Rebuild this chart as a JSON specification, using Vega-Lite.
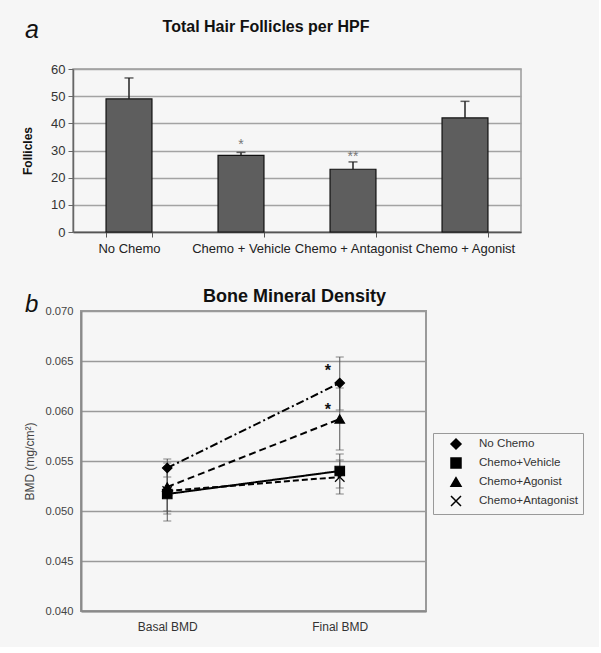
{
  "$schema": "https://vega.github.io/schema/vega-lite/v6.json",
  "background": "#f6f6f6",
  "padding": {"left": 20, "top": 18, "right": 14, "bottom": 14},
  "config": {
    "font": "Liberation Sans",
    "view": {"stroke": null},
    "legend": {
      "title": null, "orient": "none", "legendX": 352, "legendY": 122,
      "padding": 5, "strokeColor": "#999", "fillColor": "#f6f6f6",
      "labelFontSize": 11.6, "labelColor": "#333", "labelFont": "Liberation Sans",
      "symbolSize": 100, "symbolOffset": 12, "labelOffset": 17, "rowPadding": 3
    }
  },
  "spacing": 30,
  "resolve": {"scale": {"shape": "independent", "strokeDash": "independent"}, "legend": {"shape": "independent", "strokeDash": "independent"}},
  "vconcat": [
    {
      "bounds": "flush",
      "spacing": 47,
      "hconcat": [
        {
          "width": 1, "height": 1,
          "data": {"values": []},
          "mark": "point",
          "title": {"text": "a", "anchor": "start", "frame": "group", "fontSize": 25, "fontStyle": "italic", "fontWeight": "normal", "color": "#111", "baseline": "alphabetic", "offset": 6}
        },
        {
          "width": 448, "height": 163,
          "view": {"stroke": "#9a9a9a", "strokeWidth": 1.5},
          "title": {"text": "Total Hair Follicles per HPF", "fontSize": 16, "fontWeight": "bold", "color": "#111", "frame": "group", "anchor": "middle", "dx": -31, "baseline": "alphabetic", "offset": 15},
          "data": {"values": [
            {"group": "No Chemo", "mean": 49.0, "upper": 56.7, "star": "", "starPos": null},
            {"group": "Chemo + Vehicle", "mean": 28.2, "upper": 29.3, "star": "*", "starPos": 30.6},
            {"group": "Chemo + Antagonist", "mean": 23.1, "upper": 25.8, "star": "**", "starPos": 26.0},
            {"group": "Chemo + Agonist", "mean": 42.0, "upper": 48.1, "star": "", "starPos": null}
          ]},
          "encoding": {
            "x": {"field": "group", "type": "nominal", "sort": null,
              "scale": {"paddingInner": 0.59, "paddingOuter": 0.295},
              "axis": {"title": null, "labelAngle": 0, "labelFontSize": 13, "labelColor": "#222", "tickBand": "extent", "tickSize": 5, "tickColor": "#555", "domainColor": "#555", "domainWidth": 1.5, "labelPadding": 5, "grid": false}}
          },
          "layer": [
            {
              "mark": {"type": "bar", "fill": "#5e5e5e", "stroke": "#111", "strokeWidth": 1.2},
              "encoding": {"y": {"field": "mean", "type": "quantitative", "scale": {"domain": [0, 60], "nice": false},
                "axis": {"title": "Follicles", "titleFontSize": 12, "titleFontWeight": "bold", "titleColor": "#111", "titlePadding": 16, "values": [0, 10, 20, 30, 40, 50, 60], "labelOverlap": false, "labelFontSize": 13, "labelColor": "#333", "labelPadding": 3, "tickSize": 5, "tickColor": "#666", "domainColor": "#666", "domainWidth": 1.5, "grid": true, "gridColor": "#a3a3a3", "gridWidth": 1.5}}}
            },
            {
              "mark": {"type": "rule", "color": "#222", "strokeWidth": 1.5},
              "encoding": {"y": {"field": "mean", "type": "quantitative",
                "axis": {"title": "Follicles", "titleFontSize": 12, "titleFontWeight": "bold", "titleColor": "#111", "titlePadding": 16, "values": [0, 10, 20, 30, 40, 50, 60], "labelOverlap": false, "labelFontSize": 13, "labelColor": "#333", "labelPadding": 3, "tickSize": 5, "tickColor": "#666", "domainColor": "#666", "domainWidth": 1.5, "grid": true, "gridColor": "#a3a3a3", "gridWidth": 1.5}}, "y2": {"field": "upper"}}
            },
            {
              "mark": {"type": "tick", "color": "#222", "thickness": 1.5, "size": 9},
              "encoding": {"y": {"field": "upper", "type": "quantitative",
                "axis": {"title": "Follicles", "titleFontSize": 12, "titleFontWeight": "bold", "titleColor": "#111", "titlePadding": 16, "values": [0, 10, 20, 30, 40, 50, 60], "labelOverlap": false, "labelFontSize": 13, "labelColor": "#333", "labelPadding": 3, "tickSize": 5, "tickColor": "#666", "domainColor": "#666", "domainWidth": 1.5, "grid": true, "gridColor": "#a3a3a3", "gridWidth": 1.5}}}
            },
            {
              "transform": [{"filter": "datum.star != ''"}],
              "mark": {"type": "text", "color": "#777", "fontSize": 14, "baseline": "alphabetic"},
              "encoding": {"y": {"field": "starPos", "type": "quantitative",
                "axis": {"title": "Follicles", "titleFontSize": 12, "titleFontWeight": "bold", "titleColor": "#111", "titlePadding": 16, "values": [0, 10, 20, 30, 40, 50, 60], "labelOverlap": false, "labelFontSize": 13, "labelColor": "#333", "labelPadding": 3, "tickSize": 5, "tickColor": "#666", "domainColor": "#666", "domainWidth": 1.5, "grid": true, "gridColor": "#a3a3a3", "gridWidth": 1.5}}, "text": {"field": "star"}}
            }
          ]
        }
      ]
    },
    {
      "bounds": "flush",
      "spacing": 55,
      "resolve": {"scale": {"shape": "independent", "strokeDash": "independent"}, "legend": {"shape": "independent", "strokeDash": "independent"}},
      "hconcat": [
        {
          "width": 1, "height": 1,
          "data": {"values": []},
          "mark": "point",
          "title": {"text": "b", "anchor": "start", "frame": "group", "fontSize": 24, "fontStyle": "italic", "fontWeight": "normal", "color": "#111", "baseline": "alphabetic", "offset": -25}
        },
        {
          "width": 345, "height": 300,
          "view": {"stroke": "#9a9a9a", "strokeWidth": 2},
          "title": {"text": "Bone Mineral Density", "fontSize": 18, "fontWeight": "bold", "color": "#111", "frame": "group", "anchor": "middle", "dx": 41, "baseline": "alphabetic", "offset": -14.5},
          "data": {"values": [
            {"time": "Basal BMD", "group": "No Chemo", "bmd": 0.0543, "lo": 0.0534, "hi": 0.0552},
            {"time": "Basal BMD", "group": "Chemo+Vehicle", "bmd": 0.0517, "lo": 0.0490, "hi": 0.0544},
            {"time": "Basal BMD", "group": "Chemo+Agonist", "bmd": 0.0524, "lo": 0.0500, "hi": 0.0548},
            {"time": "Basal BMD", "group": "Chemo+Antagonist", "bmd": 0.0520, "lo": 0.0497, "hi": 0.0543},
            {"time": "Final BMD", "group": "No Chemo", "bmd": 0.0628, "lo": 0.0601, "hi": 0.0654},
            {"time": "Final BMD", "group": "Chemo+Vehicle", "bmd": 0.0540, "lo": 0.0523, "hi": 0.0557},
            {"time": "Final BMD", "group": "Chemo+Agonist", "bmd": 0.0592, "lo": 0.0561, "hi": 0.0623},
            {"time": "Final BMD", "group": "Chemo+Antagonist", "bmd": 0.0534, "lo": 0.0517, "hi": 0.0551}
          ]},
          "encoding": {
            "x": {"field": "time", "type": "nominal", "sort": ["Basal BMD", "Final BMD"],
              "scale": {"type": "point", "padding": 0.5},
              "axis": {"title": null, "labelAngle": 0, "labelFontSize": 12, "labelColor": "#333", "ticks": false, "tickSize": 0, "labelPadding": 10, "domainColor": "#8a8a8a", "domainWidth": 2, "grid": false}}
          },
          "layer": [
            {
              "mark": {"type": "rule", "color": "#555", "strokeWidth": 1},
              "encoding": {
                "y": {"field": "lo", "type": "quantitative", "scale": {"domain": [0.04, 0.07], "nice": false, "zero": false},
                  "axis": {"title": "BMD (mg/cm²)", "titleFontSize": 12, "titleFontWeight": "normal", "titleColor": "#444", "titlePadding": 9, "values": [0.04, 0.045, 0.05, 0.055, 0.06, 0.065, 0.07], "format": ".3f", "labelFontSize": 11.2, "labelColor": "#444", "ticks": false, "tickSize": 0, "labelPadding": 8, "domainColor": "#8a8a8a", "domainWidth": 2, "grid": true, "gridColor": "#9a9a9a", "gridWidth": 1.5}},
                "y2": {"field": "hi"}
              }
            },
            {
              "mark": {"type": "tick", "color": "#555", "thickness": 1, "size": 8},
              "encoding": {"y": {"field": "lo", "type": "quantitative"}}
            },
            {
              "mark": {"type": "tick", "color": "#555", "thickness": 1, "size": 8},
              "encoding": {"y": {"field": "hi", "type": "quantitative"}}
            },
            {
              "mark": {"type": "line", "color": "black", "strokeWidth": 2},
              "encoding": {
                "y": {"field": "bmd", "type": "quantitative"},
                "strokeDash": {"field": "group", "type": "nominal",
                  "scale": {"domain": ["Chemo+Agonist", "No Chemo", "Chemo+Vehicle", "Chemo+Antagonist"], "range": [[7, 4], [8, 3, 2, 3], [1, 0], [6, 3]]},
                  "legend": null}
              }
            },
            {
              "mark": {"type": "point", "filled": true, "color": "black", "stroke": "black", "strokeWidth": 1.2, "size": 90, "opacity": 1},
              "encoding": {
                "y": {"field": "bmd", "type": "quantitative"},
                "shape": {"field": "group", "type": "nominal",
                  "scale": {"domain": ["No Chemo", "Chemo+Vehicle", "Chemo+Agonist", "Chemo+Antagonist"], "range": ["diamond", "square", "triangle-up", "M-1,-1L1,1M-1,1L1,-1"]},
                  "legend": {"encode": {"symbols": {"fill": {"value": "black"}, "stroke": {"value": "black"}, "strokeWidth": {"value": 1.5}, "opacity": {"value": 1}}}}}
              }
            },
            {
              "data": {"values": [
                {"time": "Final BMD", "pos": 0.0635, "star": "*"},
                {"time": "Final BMD", "pos": 0.0596, "star": "*"}
              ]},
              "mark": {"type": "text", "color": "#111", "fontSize": 16, "fontWeight": "bold", "dx": -12, "baseline": "alphabetic"},
              "encoding": {"y": {"field": "pos", "type": "quantitative"}, "text": {"field": "star"}}
            }
          ]
        }
      ]
    }
  ]
}
